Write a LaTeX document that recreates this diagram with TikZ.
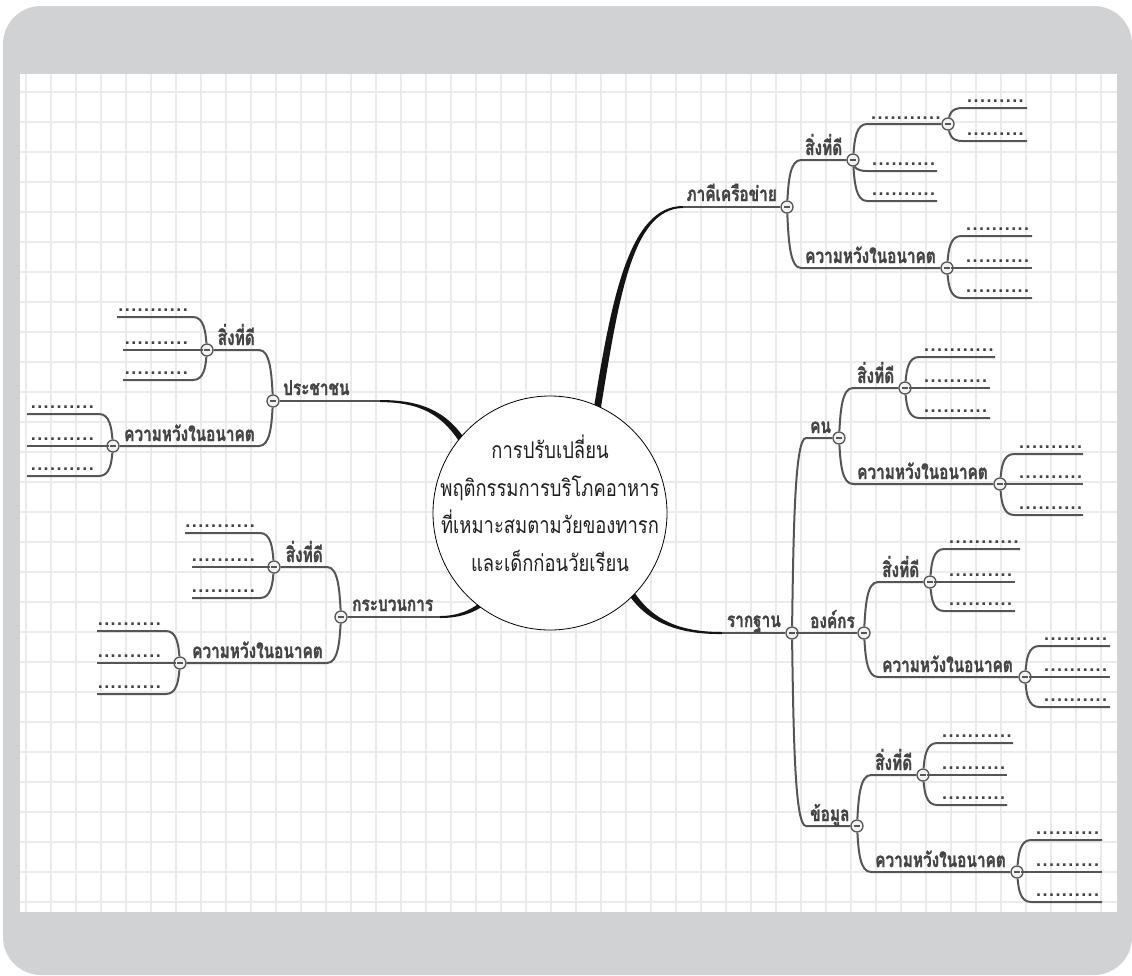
\documentclass[tikz,border=0pt]{standalone}
\usepackage{fontspec}
\newfontfamily\thlab[Script=Thai,FakeStretch=0.75,FakeBold=1.2]{Loma}
\newfontfamily\thmain[Script=Thai,FakeStretch=0.8]{Loma}
\newfontfamily\dotsfont[LetterSpace=8]{Liberation Sans}
\definecolor{framegray}{HTML}{D1D2D4}
\definecolor{gridgray}{HTML}{EBEBEB}
\definecolor{linegray}{HTML}{555555}
\definecolor{textgray}{HTML}{444444}
\definecolor{knobfill}{HTML}{F2F2F2}
\tikzset{
 knob/.style={circle, draw=linegray, fill=knobfill, line width=1.3pt, minimum size=12pt, inner sep=0pt,
   path picture={\draw[linegray,line width=1.3pt] ([xshift=-3pt]path picture bounding box.center) -- ([xshift=3pt]path picture bounding box.center);}},
 br/.style={draw=linegray, line width=2pt},
 lab/.style={font=\thlab\bfseries\fontsize{20.5}{24}\selectfont, text=textgray, inner sep=0pt},
 dotlab/.style={font=\dotsfont\bfseries\fontsize{18}{20}\selectfont, text=textgray, inner sep=0pt},
 gridline/.style={draw=gridgray, line width=1.1pt},
 taper/.style={fill=black!92},
}
% right branch ending at a knob: parent, px, py, id, y, knob, text, style
\newcommand\RK[8]{%
  \coordinate (#4s) at ({#2+14},{#5});
  \draw[br] (#1) .. controls ({#2+1.5},{#3+0.55*(#5-#3)}) and ({#2+3},{#5}) .. (#4s) -- (#6);
  \node[#8, anchor=base west] (#4) at ({#2+18},{#5-5}) {#7};
}
% right leaf: parent, px, py, id, y, xend, text
\newcommand\RL[7]{%
  \coordinate (#4s) at ({#2+14},{#5});
  \coordinate (#4e) at ({#6},{#5});
  \draw[br] (#1) .. controls ({#2+1.5},{#3+0.55*(#5-#3)}) and ({#2+3},{#5}) .. (#4s) -- (#4e);
  \node[dotlab, anchor=base west] (#4) at ({#2+19},{#5-6}) {#7};
}
% left branch ending at a knob
\newcommand\LK[8]{%
  \coordinate (#4s) at ({#2-14},{#5});
  \draw[br] (#1) .. controls ({#2-1.5},{#3+0.55*(#5-#3)}) and ({#2-3},{#5}) .. (#4s) -- (#6);
  \node[#8, anchor=base east] (#4) at ({#2-18},{#5-5}) {#7};
}
% left leaf
\newcommand\LL[7]{%
  \coordinate (#4s) at ({#2-14},{#5});
  \coordinate (#4e) at ({#6},{#5});
  \draw[br] (#1) .. controls ({#2-1.5},{#3+0.55*(#5-#3)}) and ({#2-3},{#5}) .. (#4s) -- (#4e);
  \node[dotlab, anchor=base east] (#4) at ({#2-19},{#5-6}) {#7};
}
\begin{document}
\begin{tikzpicture}[x=1pt,y=-1pt]
\useasboundingbox (0,0) rectangle (1132,975);
\fill[white] (0,0) rectangle (1132,975);
\fill[framegray, rounded corners=38pt] (3,6) rectangle (1132,975);
\fill[white] (20,74) rectangle (1117,912);
\foreach \x in {26,51,...,1101} \draw[gridline] (\x,74) -- (\x,912);
\foreach \y in {92,122,...,902} \draw[gridline] (20,\y) -- (1117,\y);

% tapered main branches
\fill[taper] (593.5,410) .. controls (611.5,299) and (629,206) .. (683,206)
   -- (683,208) .. controls (631.5,208.5) and (618.5,301) .. (600.5,410) -- cycle;
\fill[taper] (630.6,586.5) .. controls (650.6,620.5) and (680,632) .. (722,632)
   -- (722,634) .. controls (680,634.5) and (645.4,623.5) .. (625.4,589.5) -- cycle;
\fill[taper] (467.6,443.4) .. controls (447.6,410.4) and (420,400) .. (380,400)
   -- (380,402) .. controls (420,402.6) and (442.4,413.6) .. (462.4,446.6) -- cycle;
\fill[taper] (491.8,598.8) .. controls (476,614) and (458,618) .. (440,618)
   -- (440,616) .. controls (458,616) and (474,610) .. (488.2,595.2) -- cycle;

% knobs
\node[knob] (K1) at (787,207) {};
\node[knob] (K1a) at (853,160) {};
\node[knob] (K1a1) at (948,124) {};
\node[knob] (K1b) at (947,268) {};
\node[knob] (K2) at (792,633) {};
\node[knob] (K2a) at (839,438) {};
\node[knob] (K2a1) at (905,388) {};
\node[knob] (K2a2) at (1000,484) {};
\node[knob] (K2b) at (864,633) {};
\node[knob] (K2b1) at (930,582) {};
\node[knob] (K2b2) at (1025,677) {};
\node[knob] (K2c) at (857,826) {};
\node[knob] (K2c1) at (923,775) {};
\node[knob] (K2c2) at (1017,872) {};
\node[knob] (K3) at (273,401) {};
\node[knob] (K3a) at (207,350) {};
\node[knob] (K3b) at (113,446) {};
\node[knob] (K4) at (341,617) {};
\node[knob] (K4a) at (274,567) {};
\node[knob] (K4b) at (180,663) {};

% main branch ends
\coordinate (t1) at (683,207); \draw[br] (t1) -- (K1);
\coordinate (t2) at (722,633); \draw[br] (t2) -- (K2);
\coordinate (t3) at (380,401); \draw[br] (t3) -- (K3);
\coordinate (t4) at (440,617); \draw[br] (t4) -- (K4);
\node[lab, anchor=base east] (m1) at (777,201) {ภาคีเครือข่าย};
\node[lab, anchor=base east] (m2) at (781,627) {รากฐาน};
\node[lab, anchor=base west] (m3) at (283,395) {ประชาชน};
\node[lab, anchor=base west] (m4) at (352,611) {กระบวนการ};

% ภาคีเครือข่าย
\RK{K1}{787}{207}{b1a}{160}{K1a}{สิ่งที่ดี}{lab}
\RK{K1}{787}{207}{b1b}{268}{K1b}{ความหวังในอนาคต}{lab}
\RK{K1a}{853}{160}{b1a1}{124}{K1a1}{...........}{dotlab}
\RL{K1a}{853}{160}{l1a2}{171}{937}{..........}
\RL{K1a}{853}{160}{l1a3}{201}{937}{..........}
\RL{K1a1}{948}{124}{l1a1a}{108}{1027}{.........}
\RL{K1a1}{948}{124}{l1a1b}{141}{1027}{.........}
\RL{K1b}{947}{268}{l1b1}{236}{1032}{..........}
\RL{K1b}{947}{268}{l1b2}{268}{1032}{..........}
\RL{K1b}{947}{268}{l1b3}{298}{1032}{..........}

% รากฐาน
\RK{K2}{792}{633}{b2a}{438}{K2a}{คน}{lab}
\RK{K2}{792}{633}{b2b}{633}{K2b}{องค์กร}{lab}
\RK{K2}{792}{633}{b2c}{826}{K2c}{ข้อมูล}{lab}
\RK{K2a}{839}{438}{b2a1}{388}{K2a1}{สิ่งที่ดี}{lab}
\RK{K2a}{839}{438}{b2a2}{484}{K2a2}{ความหวังในอนาคต}{lab}
\RL{K2a1}{905}{388}{l2a1a}{357}{995}{...........}
\RL{K2a1}{905}{388}{l2a1b}{388}{990}{..........}
\RL{K2a1}{905}{388}{l2a1c}{418}{990}{..........}
\RL{K2a2}{1000}{484}{l2a2a}{454}{1083}{..........}
\RL{K2a2}{1000}{484}{l2a2b}{484}{1083}{..........}
\RL{K2a2}{1000}{484}{l2a2c}{515}{1083}{..........}
\RK{K2b}{864}{633}{b2b1}{582}{K2b1}{สิ่งที่ดี}{lab}
\RK{K2b}{864}{633}{b2b2}{677}{K2b2}{ความหวังในอนาคต}{lab}
\RL{K2b1}{930}{582}{l2b1a}{549}{1020}{...........}
\RL{K2b1}{930}{582}{l2b1b}{582}{1015}{..........}
\RL{K2b1}{930}{582}{l2b1c}{611}{1015}{..........}
\RL{K2b2}{1025}{677}{l2b2a}{646}{1110}{..........}
\RL{K2b2}{1025}{677}{l2b2b}{677}{1110}{..........}
\RL{K2b2}{1025}{677}{l2b2c}{707}{1110}{..........}
\RK{K2c}{857}{826}{b2c1}{775}{K2c1}{สิ่งที่ดี}{lab}
\RK{K2c}{857}{826}{b2c2}{872}{K2c2}{ความหวังในอนาคต}{lab}
\RL{K2c1}{923}{775}{l2c1a}{743}{1013}{...........}
\RL{K2c1}{923}{775}{l2c1b}{775}{1007}{..........}
\RL{K2c1}{923}{775}{l2c1c}{805}{1007}{..........}
\RL{K2c2}{1017}{872}{l2c2a}{840}{1102}{..........}
\RL{K2c2}{1017}{872}{l2c2b}{872}{1102}{..........}
\RL{K2c2}{1017}{872}{l2c2c}{902}{1102}{..........}

% ประชาชน
\LK{K3}{273}{401}{b3a}{350}{K3a}{สิ่งที่ดี}{lab}
\LK{K3}{273}{401}{b3b}{446}{K3b}{ความหวังในอนาคต}{lab}
\LL{K3a}{207}{350}{l3aa}{317}{117}{...........}
\LL{K3a}{207}{350}{l3ab}{350}{123}{..........}
\LL{K3a}{207}{350}{l3ac}{380}{123}{..........}
\LL{K3b}{113}{446}{l3ba}{414}{27}{..........}
\LL{K3b}{113}{446}{l3bb}{446}{27}{..........}
\LL{K3b}{113}{446}{l3bc}{476}{27}{..........}

% กระบวนการ
\LK{K4}{341}{617}{b4a}{567}{K4a}{สิ่งที่ดี}{lab}
\LK{K4}{341}{617}{b4b}{663}{K4b}{ความหวังในอนาคต}{lab}
\LL{K4a}{274}{567}{l4aa}{533}{185}{...........}
\LL{K4a}{274}{567}{l4ab}{567}{192}{..........}
\LL{K4a}{274}{567}{l4ac}{598}{192}{..........}
\LL{K4b}{180}{663}{l4ba}{631}{97}{..........}
\LL{K4b}{180}{663}{l4bb}{663}{97}{..........}
\LL{K4b}{180}{663}{l4bc}{694}{97}{..........}

% centre
\node[circle, draw=black, line width=0.8pt, fill=white, minimum size=234pt, inner sep=0pt] (c) at (550,513) {};
\node[align=center, inner sep=0pt, text=black!88, font=\thmain\fontsize{23}{37.5}\selectfont] (ct) at (550,503)
  {การปรับเปลี่ยน\\พฤติกรรมการบริโภคอาหาร\\ที่เหมาะสมตามวัยของทารก\\และเด็กก่อนวัยเรียน};
\end{tikzpicture}
\end{document}
